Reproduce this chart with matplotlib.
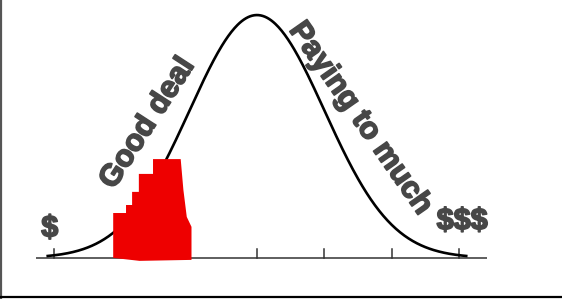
import numpy as np
import matplotlib.pyplot as plt
import matplotlib.patheffects as pe
from matplotlib.lines import Line2D

# bell curve in units of standard deviations, peak height normalised to 1
x = np.linspace(-3.1, 3.1, 400)
y = np.exp(-x ** 2 / 2)

tick_pos = [-3, -1, 0, 1, 2, 3]

# rough red highlight (hand drawn in the original), sigma / height units
red_x = [-2.13, -2.13, -1.94, -1.94, -1.85, -1.85, -1.75, -1.75, -1.54, -1.54,
         -1.13, -1.09, -1.04, -0.97, -0.97, -1.74, -2.12]
red_y = [0.0, 0.185, 0.185, 0.218, 0.218, 0.272, 0.272, 0.346, 0.346, 0.407,
         0.407, 0.28, 0.169, 0.128, -0.008, -0.012, 0.0]

fig = plt.figure(figsize=(5.62, 2.99), dpi=100)
ax = fig.add_axes([0, 0, 1, 1])
ax.set_xlim(-3.807, 4.519)
ax.set_ylim(-0.169, 1.062)
ax.axis('off')

# baseline and ticks
ax.plot([-3.27, 3.41], [0, 0], color='#333333', lw=1.1, solid_capstyle='butt')
for t in tick_pos:
    ax.plot([t, t], [0, 0.037], color='#333333', lw=1.1)

ax.plot(x, y, color='black', lw=1.9)
ax.fill(red_x, red_y, color='#ee0000', lw=0, zorder=3)

# heavier lettering, like the original's black-weight font
heavy = [pe.withStroke(linewidth=1.2, foreground='#474747')]
txt = dict(color='#474747', fontweight='bold', family='Liberation Sans',
           fontsize=22, ha='center', va='center', path_effects=heavy)
ax.text(-1.62, 0.555, 'Good deal', rotation=57, **txt)
ax.text(1.53, 0.575, 'Paying to much', rotation=-55, **txt)
ax.text(-3.07, 0.12, '$', **txt)
ax.text(3.04, 0.15, '$$$', **txt)

# frame lines on left and bottom of the picture
fig.add_artist(Line2D([0.001, 0.001], [0, 1], color='#555555', lw=1.6))
fig.add_artist(Line2D([0, 1], [0.006, 0.006], color='black', lw=1.6))

fig.savefig('out.png', dpi=100)
